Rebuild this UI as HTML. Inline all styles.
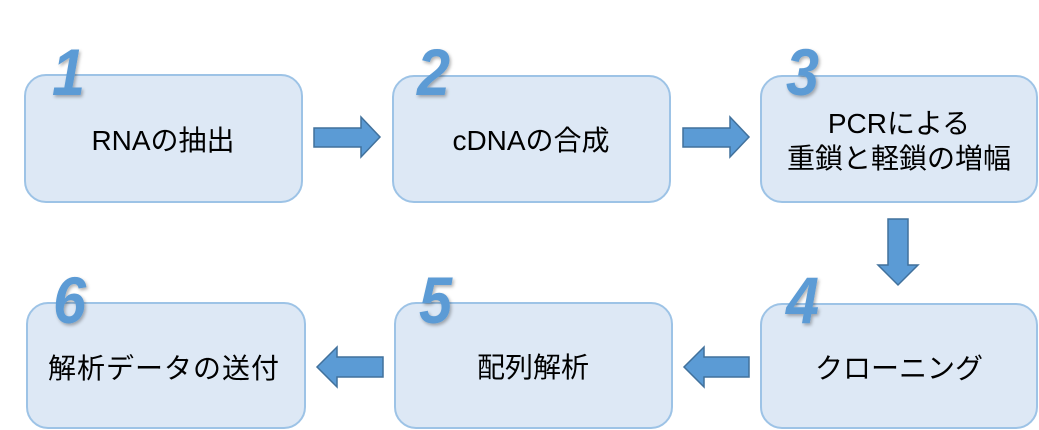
<!DOCTYPE html>
<html><head><meta charset="utf-8"><style>
html,body{margin:0;padding:0;background:#fff;}
svg{display:block;}
.box{fill:#dde8f5;stroke:#9dc3e6;stroke-width:2;}
.arr{fill:#5b9bd5;stroke:#41719c;stroke-width:1.5;}
.num{font-family:"Liberation Sans",sans-serif;font-weight:bold;font-style:italic;font-size:66px;fill:#5b9bd5;}
.t{font-family:"Liberation Sans","Noto Sans CJK JP",sans-serif;font-size:28px;fill:#000;text-anchor:middle;}
</style></head><body>
<svg width="1039" height="430" viewBox="0 0 1039 430" xmlns="http://www.w3.org/2000/svg">
<defs>
<filter id="sh" x="-20%" y="-20%" width="150%" height="150%">
<feDropShadow dx="1.5" dy="2" stdDeviation="1.5" flood-color="#000" flood-opacity="0.3"/>
</filter>
</defs>
<!-- boxes -->
<rect class="box" x="25" y="75" width="277" height="127" rx="21"/>
<rect class="box" x="393" y="76" width="277" height="126" rx="21"/>
<rect class="box" x="761" y="76" width="276" height="126" rx="21"/>
<rect class="box" x="27" y="303" width="278" height="125" rx="21"/>
<rect class="box" x="395" y="303" width="277" height="125" rx="21"/>
<rect class="box" x="761" y="304" width="276" height="124" rx="21"/>
<!-- arrows -->
<polygon class="arr" points="314,128 361,128 361,117 380,137 361,157 361,147 314,147"/>
<polygon class="arr" points="683,128 730,128 730,117 749,137 730,157 730,147 683,147"/>
<polygon class="arr" points="888,219 908,219 908,265 918,265 898,285 878,265 888,265"/>
<polygon class="arr" points="749,357 704,357 704,347 684,367 704,387 704,377 749,377"/>
<polygon class="arr" points="383,357 337,357 337,347 317,367 337,387 337,377 383,377"/>
<!-- numbers -->
<g filter="url(#sh)">
<text class="num" transform="translate(52,95) scale(0.9,1)">1</text>
<text class="num" transform="translate(417,95) scale(0.9,1)">2</text>
<text class="num" transform="translate(786,95) scale(0.9,1)">3</text>
<text class="num" transform="translate(786,323) scale(0.9,1)">4</text>
<text class="num" transform="translate(419,323) scale(0.9,1)">5</text>
<text class="num" transform="translate(53,323) scale(0.9,1)">6</text>
</g>
<!-- labels -->
<text class="t" x="163" y="150">RNAの抽出</text>
<text class="t" x="531" y="150">cDNAの合成</text>
<text class="t" x="899" y="133">PCRによる</text>
<text class="t" x="899" y="168">重鎖と軽鎖の増幅</text>
<text class="t" x="899" y="378">クローニング</text>
<text class="t" x="533" y="377">配列解析</text>
<text class="t" x="164" y="378" letter-spacing="1">解析データの送付</text>
</svg>
</body></html>
